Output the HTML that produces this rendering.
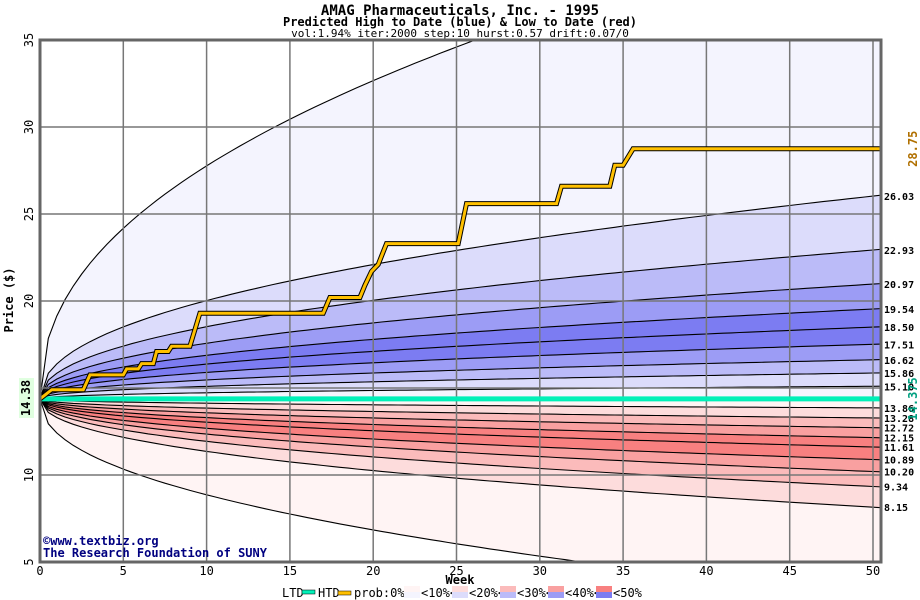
<!DOCTYPE html>
<html><head><meta charset="utf-8"><style>
body{margin:0;background:#fff;width:920px;height:600px;overflow:hidden}
svg{display:block;font-family:"DejaVu Sans Mono","Liberation Mono",monospace}
</style></head><body>
<svg id="c" width="920" height="600" xmlns="http://www.w3.org/2000/svg">
<text x="460" y="15" text-anchor="middle" font-size="14" font-weight="bold">AMAG Pharmaceuticals, Inc. - 1995</text>
<text x="460" y="26" text-anchor="middle" font-size="12" font-weight="bold">Predicted High to Date (blue) &amp;  Low to Date (red)</text>
<text x="460" y="37" text-anchor="middle" font-size="11">vol:1.94% iter:2000 step:10 hurst:0.57 drift:0.07/0</text>
<g id="plot"></g>
<text x="13" y="300" transform="rotate(-90 13 300)" text-anchor="middle" font-size="12" font-weight="bold">Price ($)</text>
<text x="460" y="584" text-anchor="middle" font-size="12" font-weight="bold">Week</text>
<text x="43" y="545" font-size="12" font-weight="bold" fill="#000080">©www.textbiz.org</text>
<text x="43" y="557" font-size="12" font-weight="bold" fill="#000080">The Research Foundation of SUNY</text>
<g id="legend" font-size="12"></g>
</svg>
<script>
const weeks=[0,50];
const medianPrice=14.375;
const shapeExp=0.45;
const upperEnds=[42,26.03,22.93,20.97,19.54,18.50,17.51,16.62,15.86,15.10];
const upperColors=['#f4f4fe','#dcdcfb','#bbbbf8','#9c9cf5','#7c7cf2','#7c7cf2','#9c9cf5','#bbbbf8','#dcdcfb','#f4f4fe'];
const lowerEnds=[3.0,8.15,9.34,10.20,10.89,11.61,12.15,12.72,13.28,13.86];
const lowerColors=['#fff4f4','#fddcdc','#fbbbbb','#f9a0a0','#f88080','#f88080','#f9a0a0','#fbbbbb','#fddcdc','#fff4f4'];
const htdWeeks=[0,0.7,2.6,3.0,5.0,5.2,5.9,6.1,6.8,7.0,7.7,7.9,9.0,9.6,17.0,17.4,19.2,19.5,19.9,20.3,20.8,25.1,25.6,31.0,31.3,34.2,34.5,35.0,35.6,50.5];
const htdPrices=[14.375,14.9,14.9,15.75,15.75,16.1,16.1,16.4,16.4,17.1,17.1,17.4,17.4,19.3,19.3,20.2,20.2,20.9,21.7,22.1,23.3,23.3,25.6,25.6,26.6,26.6,27.8,27.8,28.75,28.75];
const xTicks=[0,5,10,15,20,25,30,35,40,45,50];
const yTicks=[5,10,15,20,25,30,35];
const rightLabels=[26.03,22.93,20.97,19.54,18.50,17.51,16.62,15.86,15.10,13.86,13.28,12.72,12.15,11.61,10.89,10.20,9.34,8.15];

const X0=40,X1=881,Y0=40,Y1=562;
const xs=w=>X0+w*(873-40)/50;
const ys=p=>Y0+(35-p)*(Y1-Y0)/30;
const NS='http://www.w3.org/2000/svg';
const plot=document.getElementById('plot');
function mk(t,a,parent){const e=document.createElementNS(NS,t);for(const k in a)e.setAttribute(k,a[k]);(parent||plot).appendChild(e);return e;}
const defs=mk('defs',{});const cp=mk('clipPath',{id:'clip'},defs);mk('rect',{x:X0,y:Y0,width:X1-X0,height:Y1-Y0},cp);
const g=mk('g',{'clip-path':'url(#clip)'});
const steps=[];for(let i=0;i<=101;i++)steps.push(i*0.5);
function curve(end){return steps.map(w=>[xs(w),ys(medianPrice+(end-medianPrice)*Math.pow(w/50,shapeExp))]);}
function pts(a){return a.map(p=>p[0].toFixed(1)+','+p[1].toFixed(1)).join(' ');}
function bands(ends,colors,nm){
  for(let i=0;i<ends.length;i++){
    const a=curve(ends[i]);const b=(i+1<ends.length)?curve(ends[i+1]):curve(medianPrice);
    const poly=mk('polygon',{points:pts(a)+' '+pts(b.slice().reverse()),fill:colors[i],stroke:'none'},g);
    
    
  }
  for(let i=0;i<ends.length;i++){
    const l=mk('polyline',{points:pts(curve(ends[i])),fill:'none',stroke:'#000','stroke-width':1.1},g);
    
    
  }
}
bands(upperEnds,upperColors,'upper');
bands(lowerEnds,lowerColors,'lower');
xTicks.forEach(w=>{if(w>0&&w<=50){const l=mk('line',{x1:xs(w),x2:xs(w),y1:Y0,y2:Y1,stroke:'#777','stroke-width':1.5});}
 const t=mk('text',{x:xs(w),y:Y1+13,'text-anchor':'middle','font-size':12});t.textContent=w;});
yTicks.forEach(p=>{if(p>5&&p<35){const l=mk('line',{x1:X0,x2:X1,y1:ys(p),y2:ys(p),stroke:'#777','stroke-width':1.5});}
 const t=mk('text',{x:33,y:ys(p),'text-anchor':'middle','font-size':12,transform:'rotate(-90 33 '+ys(p)+')'});t.textContent=p;});
const ltd=mk('line',{x1:X0,x2:X1,y1:ys(medianPrice),y2:ys(medianPrice),stroke:'#00f0b8','stroke-width':5});

const hp=htdWeeks.map((w,i)=>[xs(w),ys(htdPrices[i])]);
mk('polyline',{points:pts(hp),fill:'none',stroke:'#000','stroke-width':5});
const htd=mk('polyline',{points:pts(hp),fill:'none',stroke:'#ffc000','stroke-width':3});

const fr=mk('rect',{x:X0,y:Y0,width:X1-X0,height:Y1-Y0,fill:'none',stroke:'#666','stroke-width':3});

rightLabels.forEach(v=>{const t=mk('text',{x:884,y:ys(v)+4,'font-size':10,'font-weight':'bold'});t.textContent=v.toFixed(2);});
let t=mk('text',{x:917,y:ys(28.75),'text-anchor':'middle','font-size':12,'font-weight':'bold',fill:'#b07000',transform:'rotate(-90 917 '+ys(28.75)+')'});t.textContent='28.75';
t=mk('text',{x:917,y:ys(14.375),'text-anchor':'middle','font-size':12,'font-weight':'bold',fill:'#00a080',transform:'rotate(-90 917 '+ys(14.375)+')'});t.textContent='14.375';
mk('rect',{x:19,y:378,width:15,height:40,fill:'#e0ffe0'});
t=mk('text',{x:30,y:398,'text-anchor':'middle','font-size':12,'font-weight':'bold',transform:'rotate(-90 30 398)'});t.textContent='14.38';
// legend
const lg=document.getElementById('legend');
function lt(x,s){const e=mk('text',{x:x,y:597},lg);e.textContent=s;return e;}
lt(282,'LTD');mk('rect',{x:302,y:590,width:13,height:4,fill:'#00f0b8',stroke:'#000','stroke-width':0.5},lg);
lt(318,'HTD');mk('rect',{x:338,y:591,width:13,height:4,fill:'#ffc000',stroke:'#000','stroke-width':0.5},lg);
lt(354,'prob:0%<');
const lgLabels=['<10%<','<20%<','<30%<','<40%<','<50%'];
const lgR=['#fff4f4','#fddcdc','#fbbbbb','#f9a0a0','#f88080'],lgB=['#f4f4fe','#dcdcfb','#bbbbf8','#9c9cf5','#7c7cf2'];
for(let i=0;i<5;i++){const x=404+i*48;mk('rect',{x:x,y:586,width:16,height:6,fill:lgR[i]},lg);mk('rect',{x:x,y:592,width:16,height:6,fill:lgB[i]},lg);
 const e=lt(x+17,lgLabels[i]);}
</script>
</body></html>
